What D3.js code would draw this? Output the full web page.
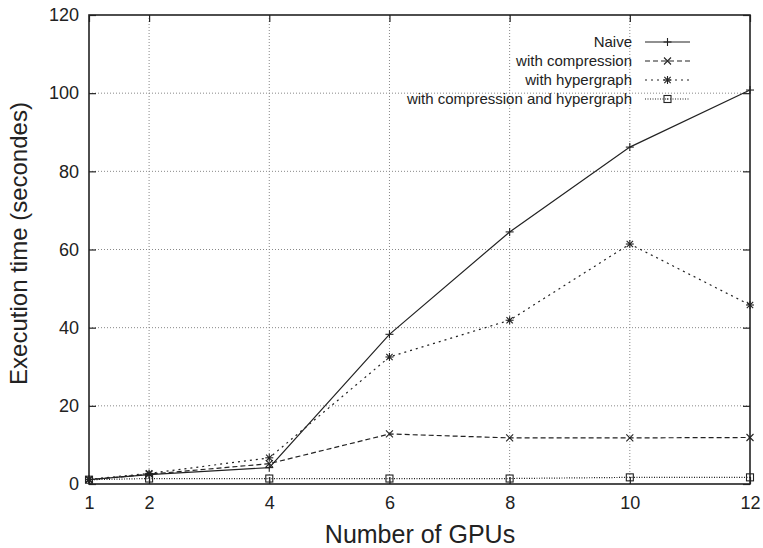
<!DOCTYPE html>
<html>
<head>
<meta charset="utf-8">
<script src="https://cdn.jsdelivr.net/npm/d3@7"></script>
<style>
  body { margin: 0; background: #fff; }
  svg { font-family: "Liberation Sans", Arial, sans-serif; }
</style>
</head>
<body>
<svg id="chart" width="763" height="548"></svg>
<script>
var gpus = [1, 2, 4, 6, 8, 10, 12];
var naive = [1.1, 2.4, 4.2, 38.3, 64.5, 86.2, 100.8];
var compression = [1.1, 2.5, 5.2, 12.8, 11.8, 11.8, 11.9];
var hypergraph = [1.2, 2.7, 6.7, 32.5, 41.9, 61.4, 45.8];
var both = [1.1, 1.4, 1.4, 1.4, 1.4, 1.7, 1.7];
var xTicks = [1, 2, 4, 6, 8, 10, 12];
var yTicks = [0, 20, 40, 60, 80, 100, 120];
var seriesNames = ["Naive", "with compression", "with hypergraph", "with compression and hypergraph"];

var svg = d3.select("#chart");
var pLeft = 89, pRight = 750, pTop = 15, pBottom = 484;

var x = d3.scaleLinear().domain([1, 12]).range([pLeft, pRight]);
var y = d3.scaleLinear().domain([0, 120]).range([pBottom, pTop]);

var series = [
  { name: seriesNames[0], values: naive, dash: null, marker: "plus" },
  { name: seriesNames[1], values: compression, dash: "5,3", marker: "cross" },
  { name: seriesNames[2], values: hypergraph, dash: "2,4", marker: "star" },
  { name: seriesNames[3], values: both, dash: "1,1.5", marker: "box" }
];

// grid
var grid = svg.append("g").attr("stroke", "#888").attr("stroke-width", 1).attr("stroke-dasharray", "1,2");
grid.selectAll(".gx").data(xTicks.slice(1, -1)).enter().append("line")
  .attr("x1", function(d) { return x(d); }).attr("x2", function(d) { return x(d); })
  .attr("y1", pTop).attr("y2", pBottom);
grid.selectAll(".gy").data(yTicks.slice(1, -1)).enter().append("line")
  .attr("x1", pLeft).attr("x2", pRight)
  .attr("y1", function(d) { return y(d); }).attr("y2", function(d) { return y(d); });

// axes with inward ticks
var ax = svg.append("g").attr("transform", "translate(0," + pBottom + ")")
  .call(d3.axisBottom(x).tickValues(xTicks).tickSizeInner(-7).tickSizeOuter(0).tickPadding(12));
var axTop = svg.append("g").attr("transform", "translate(0," + pTop + ")")
  .call(d3.axisTop(x).tickValues(xTicks).tickSizeInner(-7).tickSizeOuter(0).tickFormat(""));
var ay = svg.append("g").attr("transform", "translate(" + pLeft + ",0)")
  .call(d3.axisLeft(y).tickValues(yTicks).tickSizeInner(-7).tickSizeOuter(0).tickPadding(10));
var ayR = svg.append("g").attr("transform", "translate(" + pRight + ",0)")
  .call(d3.axisRight(y).tickValues(yTicks).tickSizeInner(-7).tickSizeOuter(0).tickFormat(""));

[ax, axTop, ay, ayR].forEach(function(a) {
  a.select(".domain").remove();
  a.selectAll(".tick line").attr("stroke", "#222").attr("stroke-width", 1.2);
  a.selectAll("text").attr("font-size", 18).attr("fill", "#222")
    .attr("font-family", "Liberation Sans, Arial, sans-serif");
});

svg.append("rect").attr("x", pLeft).attr("y", pTop)
  .attr("width", pRight - pLeft).attr("height", pBottom - pTop)
  .attr("fill", "none").attr("stroke", "#222").attr("stroke-width", 1.6);

// markers
function drawMarker(g, kind, cx, cy) {
  var s = 4;
  var m = g.append("g").attr("transform", "translate(" + cx + "," + cy + ")")
    .attr("stroke", "#222").attr("stroke-width", 1.1).attr("fill", "none");
  if (kind === "plus" || kind === "star") {
    m.append("line").attr("x1", -s).attr("x2", s).attr("y1", 0).attr("y2", 0);
    m.append("line").attr("x1", 0).attr("x2", 0).attr("y1", -s).attr("y2", s);
  }
  if (kind === "cross" || kind === "star") {
    var c = kind === "star" ? 3.2 : 3.5;
    m.append("line").attr("x1", -c).attr("x2", c).attr("y1", -c).attr("y2", c);
    m.append("line").attr("x1", -c).attr("x2", c).attr("y1", c).attr("y2", -c);
  }
  if (kind === "box") {
    m.append("rect").attr("x", -3.5).attr("y", -3.5).attr("width", 7).attr("height", 7);
    m.append("rect").attr("x", -0.6).attr("y", -0.6).attr("width", 1.2).attr("height", 1.2).attr("fill", "#222").attr("stroke", "none");
  }
}

var line = d3.line()
  .x(function(d) { return x(d[0]); })
  .y(function(d) { return y(d[1]); });

series.forEach(function(s) {
  var pts = gpus.map(function(g, i) { return [g, s.values[i]]; });
  svg.append("path").datum(pts)
    .attr("d", line)
    .attr("fill", "none")
    .attr("stroke", "#222")
    .attr("stroke-width", 1.2)
    .attr("stroke-dasharray", s.dash);
  var mg = svg.append("g");
  pts.forEach(function(p) { drawMarker(mg, s.marker, x(p[0]), y(p[1])); });
});

// legend
var legend = svg.append("g");
series.forEach(function(s, i) {
  var ly = 42 + i * 19;
  legend.append("text").attr("x", 632).attr("y", ly + 5)
    .attr("text-anchor", "end").attr("font-size", 15).attr("fill", "#222")
    .text(s.name);
  legend.append("line").attr("x1", 645).attr("x2", 690).attr("y1", ly).attr("y2", ly)
    .attr("stroke", "#222").attr("stroke-width", 1.2).attr("stroke-dasharray", s.dash);
  drawMarker(legend, s.marker, 667.5, ly);
});

// axis titles
svg.append("text").attr("x", 420).attr("y", 543)
  .attr("text-anchor", "middle").attr("font-size", 25).attr("fill", "#222")
  .text("Number of GPUs");
svg.append("text")
  .attr("transform", "translate(27," + ((pTop + pBottom) / 2 - 6) + ") rotate(-90)")
  .attr("text-anchor", "middle").attr("font-size", 24).attr("fill", "#222")
  .text("Execution time (secondes)");
</script>
</body>
</html>
